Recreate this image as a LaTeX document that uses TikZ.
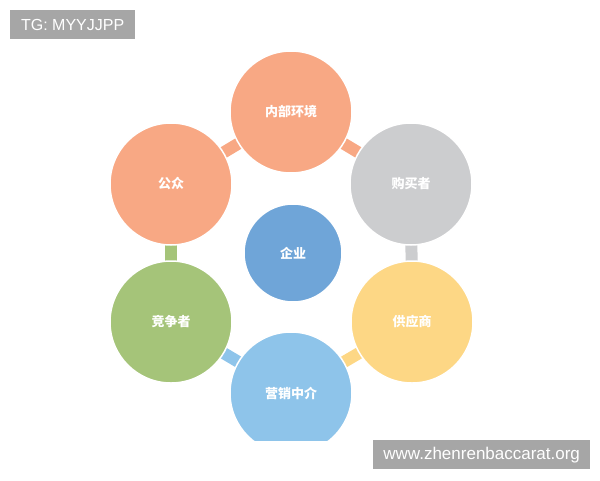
\documentclass[tikz,border=0pt]{standalone}
\usepackage{fontspec}
\setmainfont{Liberation Sans}
\newfontfamily\cjk{Noto Sans CJK SC}
\definecolor{salmonC}{RGB}{248,168,132}
\definecolor{grayC}{RGB}{204,205,207}
\definecolor{yellowC}{RGB}{253,215,133}
\definecolor{lblueC}{RGB}{142,196,234}
\definecolor{greenC}{RGB}{165,196,121}
\definecolor{blueC}{RGB}{111,165,216}
\definecolor{boxC}{RGB}{166,166,166}
\begin{document}
\begin{tikzpicture}[x=1pt,y=-1pt,
  ball/.style={circle,draw=white,line width=1.5pt,minimum size=122pt,inner sep=0pt,text=white,font=\cjk\bfseries\fontsize{13}{15}\selectfont},
  bar/.style={line width=12pt},
  wmark/.style={fill=boxC,text=white,inner sep=0pt,anchor=north west}]
\useasboundingbox (0,0) rectangle (600,480);
\begin{scope}
\clip (0,0) rectangle (600,440);
\coordinate (cIn) at (291,112);
\coordinate (cBuy) at (411,184);
\coordinate (cSup) at (412,322);
\coordinate (cMkt) at (291,393);
\coordinate (cCmp) at (171,322);
\coordinate (cPub) at (171,184);
\draw[bar,salmonC] (cPub) -- (cIn);
\draw[bar,salmonC] (cIn) -- (cBuy);
\draw[bar,grayC] (cBuy) -- (cSup);
\draw[bar,yellowC] (cSup) -- (cMkt);
\draw[bar,lblueC] (cMkt) -- (cCmp);
\draw[bar,greenC] (cCmp) -- (cPub);
\node[ball,fill=salmonC] (in) at (cIn) {内部环境};
\node[ball,fill=grayC] (buy) at (cBuy) {购买者};
\node[ball,fill=yellowC] (sup) at (cSup) {供应商};
\node[ball,fill=lblueC] (mkt) at (cMkt) {营销中介};
\node[ball,fill=greenC] (cmp) at (cCmp) {竞争者};
\node[ball,fill=salmonC] (pub) at (cPub) {公众};
\node[ball,fill=blueC,minimum size=98pt] (ent) at (293,253) {企业};
\end{scope}
\node[wmark,minimum width=125pt,minimum height=29pt,font=\fontsize{16}{18}\selectfont] (tg) at (10,10) {TG: MYYJJPP};
\node[wmark,minimum width=217pt,minimum height=29pt,font=\fontsize{17}{19}\selectfont] (www) at (373,440) {www.zhenrenbaccarat.org};
\end{tikzpicture}
\end{document}
